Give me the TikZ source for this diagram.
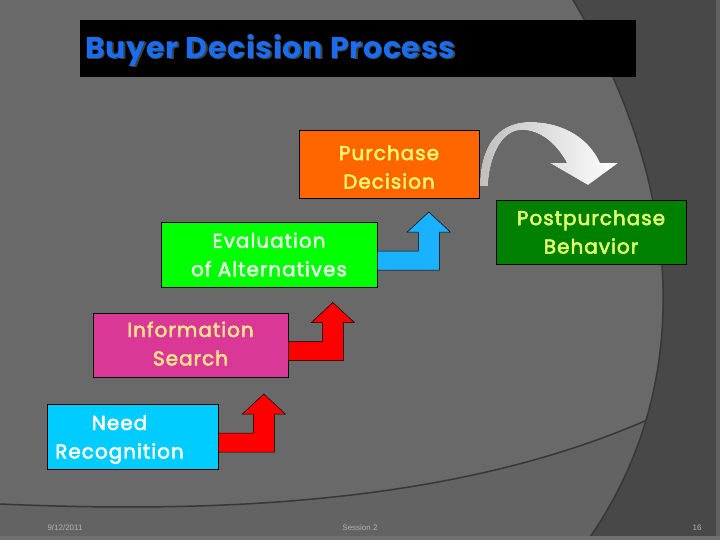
\documentclass[tikz,border=0pt]{standalone}
\usepackage{fontspec}
\setmainfont{Poppins}
\newfontfamily\stagefont[LetterSpace=5,FakeBold=2.6]{Poppins}
\newfontfamily\titlefont[LetterSpace=2.5]{Poppins}
\newfontfamily\footfont{Liberation Sans}
\usetikzlibrary{positioning,calc}
\definecolor{slide}{RGB}{105,105,105}
\definecolor{slidelow}{RGB}{99,99,99}
\definecolor{slidedark}{RGB}{72,72,72}
\definecolor{slideedge}{RGB}{55,55,55}
\definecolor{titleblue}{RGB}{25,110,240}
\definecolor{buyorange}{RGB}{255,102,0}
\definecolor{evalgreen}{RGB}{0,255,0}
\definecolor{infopink}{RGB}{218,56,150}
\definecolor{needcyan}{RGB}{0,204,255}
\definecolor{postgreen}{RGB}{0,128,0}
\definecolor{stepred}{RGB}{255,0,0}
\definecolor{stepblue}{RGB}{26,178,255}
\definecolor{paleyellow}{RGB}{255,245,110}
\definecolor{palegold}{RGB}{255,228,140}
\definecolor{limeyellow}{RGB}{228,255,110}
\definecolor{mintwhite}{RGB}{232,255,232}
\tikzstyle{stage}=[draw=black,line width=0.6pt,inner sep=0pt,align=center,font=\stagefont\fontsize{20}{28.5}\selectfont]
\tikzstyle{stepper}=[draw=black,line width=0.5pt]
\tikzstyle{footer}=[text={rgb,255:red,178;green,178;blue,178},font=\footfont\fontsize{8}{9}\selectfont]
% bent step arrow: #1 box, #2 bar length, #3 fill
\newcommand{\stepup}[3]{%
  \draw[stepper,fill=#3] ($(#1.east)+(0,15.5)$) -- ++(#2+21,0) -- ++(0,-38)
    -- ++(11,0) -- ++(-21.5,-20) -- ++(-21.5,20) -- ++(11,0) -- ++(0,19)
    -- ($(#1.east)+(0,-3.5)$) -- cycle;}
\begin{document}
\begin{tikzpicture}[x=1pt,y=-1pt]
    \useasboundingbox (0,0) rectangle (720,540);
    % slide background
    \fill[slide] (0,0) rectangle (720,540);
    \fill[slidelow] (0,504) .. controls (250,515) and (520,500) .. (720,383) -- (720,540) -- (0,540) -- cycle;
    \draw[slideedge,line width=1.5pt] (0,504) .. controls (250,515) and (520,500) .. (720,383);
    \fill[slidedark] (573,0) .. controls (680,180) and (700,380) .. (588,540) -- (720,540) -- (720,0) -- cycle;
    \draw[slideedge,line width=1.5pt] (573,0) .. controls (680,180) and (700,380) .. (588,540);
    \fill[black!62] (716,0) rectangle (720,540);
    \fill[black!56] (0,536) rectangle (720,540);

    % title bar
    \node (titlebar) [fill=black,minimum width=556pt,minimum height=57pt,inner sep=0pt] at (358,48.5) {};
    \node (titleshadow) [anchor=west,inner sep=0pt,text=black!75,font=\titlefont\fontsize{30}{34}\selectfont\bfseries] at (86.5,51.5) {Buyer Decision Process};
    \node (title) [anchor=west,inner sep=0pt,text=titleblue,font=\titlefont\fontsize{30}{34}\selectfont\bfseries] at (85,50) {Buyer Decision Process};

    % stages
    \node (need) [stage,fill=needcyan,minimum width=171pt,minimum height=65pt,
        label={[xshift=-13pt,yshift=-3pt,align=center,text=white,font=\stagefont\fontsize{20}{28.5}\selectfont]center:Need\\Recognition}] at (132.5,436.5) {};
    \node (info) [stage,fill=infopink,text=palegold,minimum width=195pt,minimum height=64pt,text depth=3pt] at (190.5,345) {Information\\Search};
    \node (eval) [stage,fill=evalgreen,text=mintwhite,minimum width=216pt,minimum height=65pt] at (269,254.5) {Evaluation\\of Alternatives};
    \node (purchase) [stage,fill=buyorange,minimum width=180pt,minimum height=68pt,
        label={[yshift=-3pt,align=center,text=paleyellow,font=\stagefont\fontsize{20}{28.5}\selectfont]center:Purchase\\Decision}] at (389,164) {};
    \node (post) [stage,fill=postgreen,text=limeyellow,minimum width=190pt,minimum height=64pt] at (591,232) {Postpurchase\\Behavior};

    \stepup{need}{35}{stepred}
    \stepup{info}{34}{stepred}
    \stepup{eval}{41}{stepblue}

    % curved arrow to postpurchase
    \fill[left color=black!25,middle color=white,right color=white]
        (480,186) .. controls (480,150) and (495,122) .. (530,122)
        .. controls (565,122) and (590,140) .. (600,163) -- (618,163) -- (588,185)
        -- (550,163) -- (567,163) .. controls (556,143) and (540,130) .. (522,130)
        .. controls (500,130) and (489,160) .. (488,186) -- cycle;

    % footer
    \node (date) [footer] at (65,528) {9/12/2011};
    \node (session) [footer] at (360,528) {Session 2};
    \node (page) [footer] at (697,528) {16};
\end{tikzpicture}
\end{document}
